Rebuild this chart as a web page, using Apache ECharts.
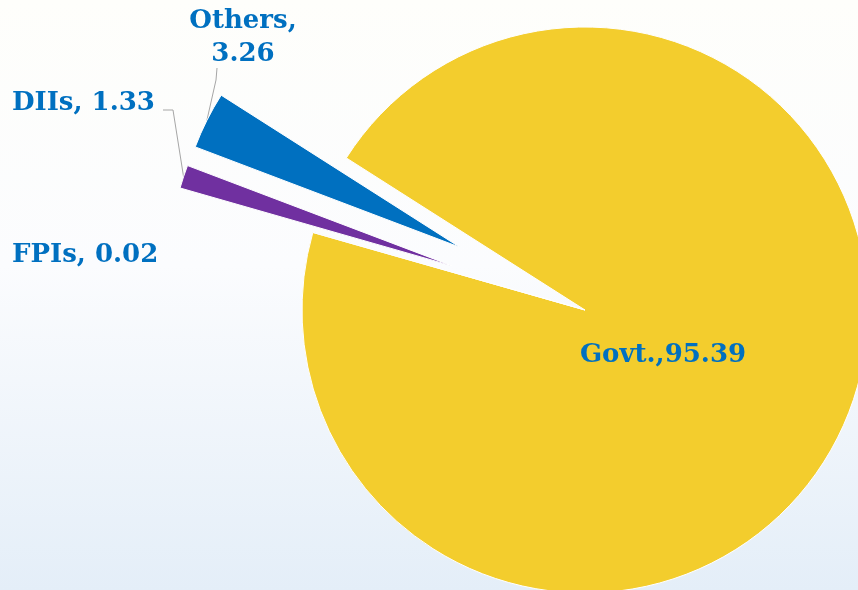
<!DOCTYPE html>
<html>
<head>
<meta charset="utf-8">
<script src="https://cdn.jsdelivr.net/npm/echarts@6/dist/echarts.min.js"></script>
<style>
  html, body { margin: 0; padding: 0; }
  #chart { width: 858px; height: 590px; }
</style>
</head>
<body>
<div id="chart"></div>
<script>
// ── Data ──────────────────────────────────────────────
const categories = ['Govt.', 'FPIs', 'DIIs', 'Others'];
const values = [95.39, 0.02, 1.33, 3.26];

// ── Palette / layout ──────────────────────────────────
const SLICE_COLORS = ['#F3CD2D', '#A5A5A5', '#7030A0', '#0070C0'];
const LABEL_BLUE = '#0070C0';
const FONT = '"DejaVu Serif", serif';
const CENTER = [585, 310];
const RADIUS = 283;
const START_ANGLE = 147.5;
// how far each slice is pulled out of the pie
const explode = { 'Govt.': 0, 'FPIs': 0, 'DIIs': 140, 'Others': 140 };

// label anchors (layout only)
const labelPos = {
  'Govt.': { x: 663, y: 355, align: 'center' },
  'FPIs': { x: 12, y: 255, align: 'left' },
  'DIIs': { x: 12, y: 103, align: 'left' },
  'Others': { x: 243, y: 38, align: 'center' }
};
// leader line: start + elbow near the label, end found on the slice rim
const leader = {
  'DIIs': [[163, 110], [173, 110]],
  'Others': [[217, 68], [216, 80]]
};

function labelText(p) {
  if (p.name === 'Govt.') return p.name + ',' + p.value;
  if (p.name === 'Others') return p.name + ',\n' + p.value;
  return p.name + ', ' + p.value;
}

// each slice gets its own pie series so it can be pulled out along its mid angle
const total = values.reduce((a, b) => a + b, 0);
let acc = 0;
const series = categories.map((cat, k) => {
  const mid = (START_ANGLE - 360 * (acc + values[k] / 2) / total) * Math.PI / 180;
  acc += values[k];
  const off = explode[cat];
  const cx = CENTER[0] + Math.cos(mid) * off;
  const cy = CENTER[1] - Math.sin(mid) * off;
  const rim = [cx + Math.cos(mid) * RADIUS, cy - Math.sin(mid) * RADIUS];
  return {
    type: 'pie',
    name: cat,
    center: [cx, cy],
    radius: RADIUS,
    startAngle: START_ANGLE,
    clockwise: true,
    avoidLabelOverlap: false,
    silent: true,
    animation: false,
    itemStyle: { borderColor: '#ffffff', borderWidth: 1 },
    label: {
      formatter: labelText,
      color: LABEL_BLUE,
      fontFamily: FONT,
      fontWeight: 'bold',
      fontSize: 26,
      lineHeight: 33
    },
    labelLine: {
      lineStyle: { color: '#A6A6A6', width: 1 }
    },
    labelLayout: function (p) {
      const name = categories[p.dataIndex];
      const pos = labelPos[name];
      const out = { x: pos.x, y: pos.y, align: pos.align, verticalAlign: 'middle' };
      if (leader[name]) out.labelLinePoints = leader[name].concat([rim]);
      return out;
    },
    data: categories.map((name, i) => ({
      name: name,
      value: values[i],
      itemStyle: i === k
        ? { color: SLICE_COLORS[i] }
        : { color: 'rgba(0,0,0,0)', borderWidth: 0 },
      label: { show: i === k },
      labelLine: { show: i === k && !!leader[name] }
    }))
  };
});

const chart = echarts.init(document.getElementById('chart'), null, { renderer: 'canvas' });

chart.setOption({
  backgroundColor: {
    type: 'linear', x: 0, y: 0, x2: 0, y2: 1,
    colorStops: [
      { offset: 0, color: '#FEFEFB' },
      { offset: 0.45, color: '#FBFCFE' },
      { offset: 1, color: '#E4EEF8' }
    ]
  },
  animation: false,
  series: series
});
</script>
</body>
</html>
